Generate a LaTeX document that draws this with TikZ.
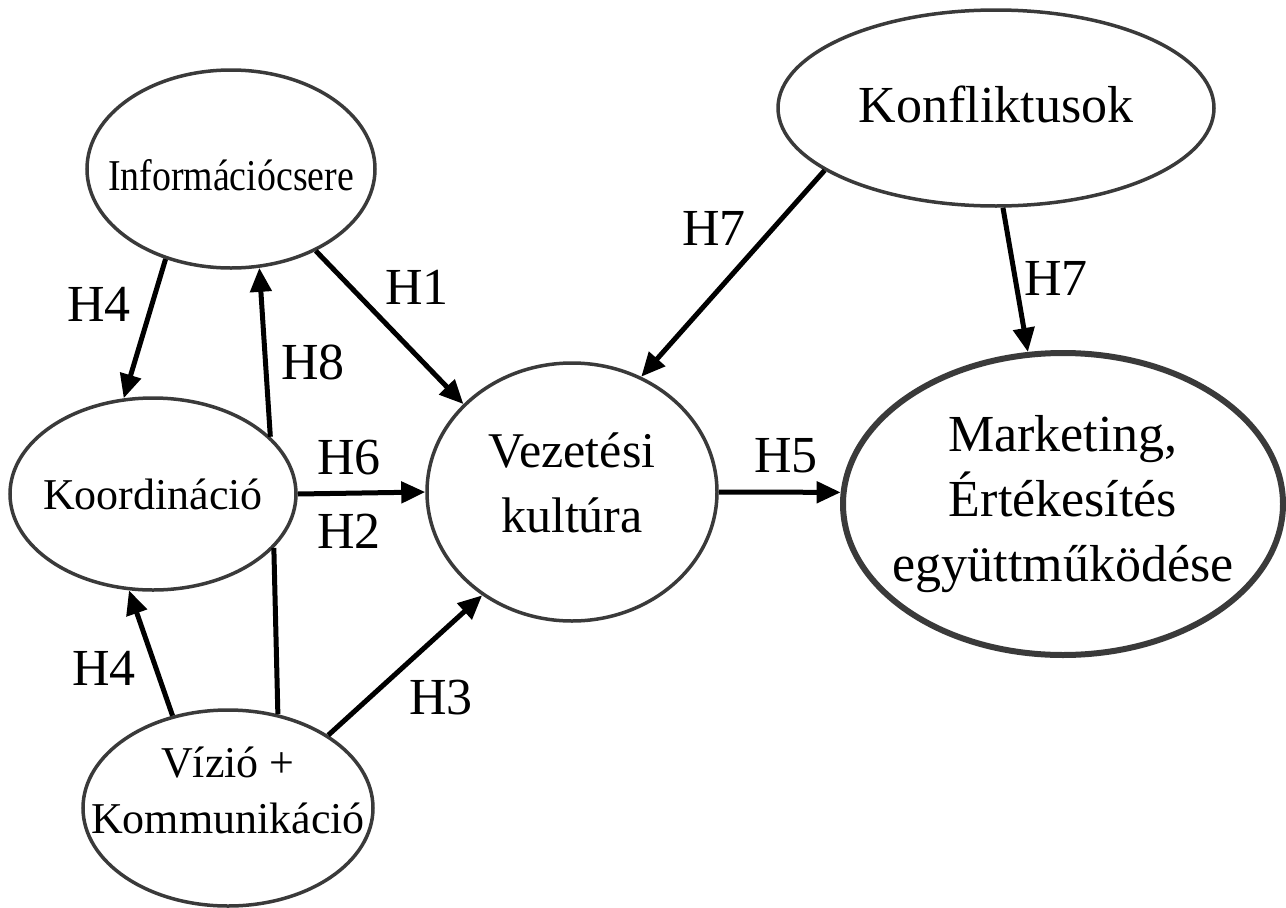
\documentclass[tikz,border=0pt]{standalone}
\usepackage{fontspec}
\setmainfont{Liberation Serif}
\newfontfamily\narrowfont[FakeStretch=0.86]{Liberation Serif}
\usetikzlibrary{arrows.meta,shapes.geometric}
\definecolor{rim}{HTML}{3A3A3A}
\tikzset{
	blob/.style={draw=rim, line width=3.5pt, ellipse, inner sep=0pt},
	hyp/.style={font=\fontsize{52}{60}\selectfont, inner sep=0pt},
	arrow/.style={line width=5pt, -{Triangle[length=24pt,width=21pt]}},
	link/.style={line width=5pt},
}
\begin{document}
\begin{tikzpicture}[x=1pt,y=-1pt]
	\useasboundingbox (0,0) rectangle (1286,908);
	\node[blob, minimum width=288pt, minimum height=198pt,
		label={[font=\narrowfont\fontsize{44}{52}\selectfont, yshift=-6pt]center:Információcsere}] (info) at (231,169) {};
	\node[blob, minimum width=286pt, minimum height=192pt,
		label={[font=\fontsize{44}{52}\selectfont]center:Koordináció}] (koord) at (153,494) {};
	\node[blob, minimum width=290pt, minimum height=196pt,
		label={[font=\fontsize{44}{56}\selectfont, align=center, yshift=18pt]center:Vízió +\\Kommunikáció}] (vizio) at (228,808) {};
	\node[blob, minimum width=290pt, minimum height=258pt,
		label={[font=\fontsize{50}{65}\selectfont, align=center, yshift=9pt]center:Vezetési\\kultúra}] (vez) at (572,492) {};
	\node[blob, minimum width=436pt, minimum height=196pt,
		label={[font=\fontsize{52}{65}\selectfont, yshift=4pt]center:Konfliktusok}] (konf) at (996,108) {};
	\node[blob, line width=6pt, minimum width=440pt, minimum height=302pt,
		label={[font=\fontsize{52}{65}\selectfont, align=center]center:Marketing,\\Értékesítés\\együttműködése}] (mark) at (1063,504) {};
	\draw[arrow] (info.234) -- (koord.107);
	\draw[arrow] (koord.26) -- (info.286);
	\draw[link] (vizio.62) -- (koord.336);
	\draw[arrow] (info.316) -- (vez.141);
	\draw[arrow] (koord.east) -- (vez.west);
	\draw[arrow] (vizio.121) -- (koord.256);
	\draw[arrow] (vizio.36) -- (vez.229);
	\draw[arrow] (vez.east) -- (mark.177);
	\draw[arrow] (konf.200) -- (vez.59);
	\draw[arrow] (konf.274) -- (mark.103);
%	hypothesis labels
	\node[hyp] (h4a) at (99,304) {H4};
	\node[hyp] (h8) at (313,362) {H8};
	\node[hyp] (h1) at (417,287) {H1};
	\node[hyp] (h6) at (349,458) {H6};
	\node[hyp] (h2) at (349,531) {H2};
	\node[hyp] (h4b) at (104,668) {H4};
	\node[hyp] (h3) at (441,698) {H3};
	\node[hyp] (h5) at (786,456) {H5};
	\node[hyp] (h7a) at (714,228) {H7};
	\node[hyp] (h7b) at (1056,278) {H7};
\end{tikzpicture}
\end{document}
